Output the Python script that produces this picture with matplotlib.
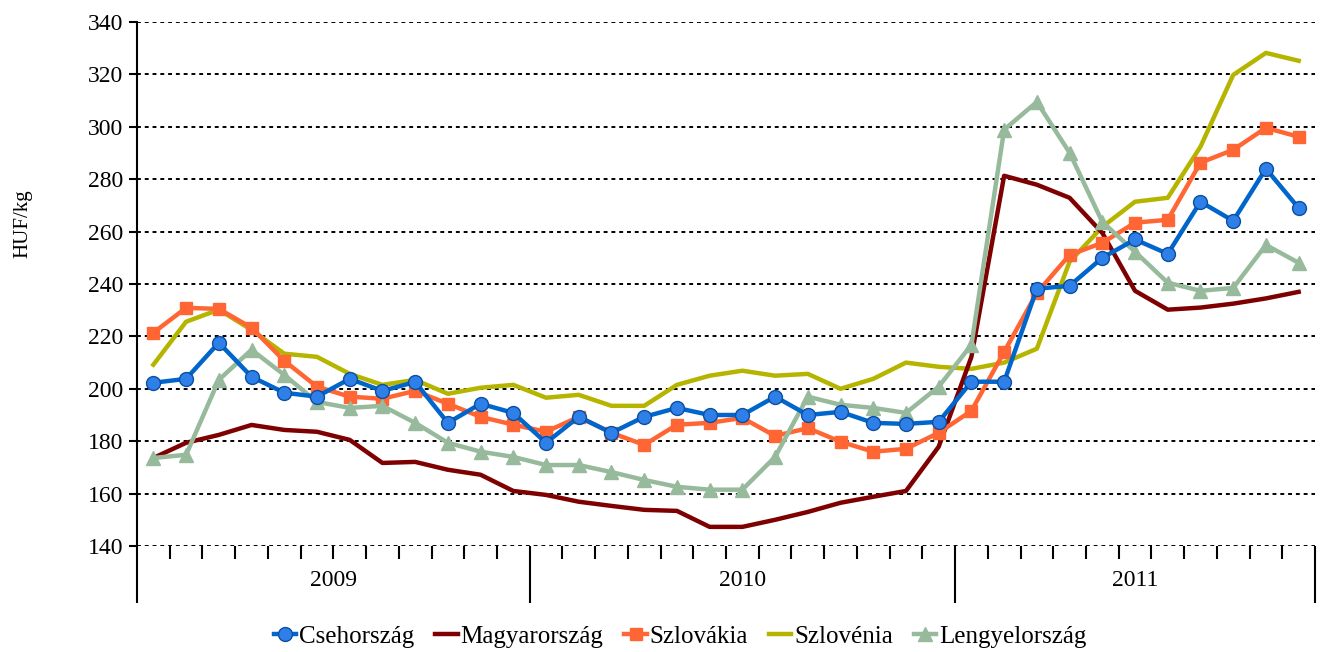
import numpy as np
import matplotlib
matplotlib.use("Agg")
import matplotlib.pyplot as plt
import matplotlib.transforms as mtransforms

plt.rcParams['font.family'] = ['Liberation Serif', 'DejaVu Serif']

# havi adatok, 2009-2011 (HUF/kg)
years = ['2009', '2010', '2011']
year_sizes = [12, 13, 11]

cseh = [202.3, 203.8, 217.6, 204.6, 198.5, 197.0, 203.8, 199.2, 202.6, 187.0, 194.3, 190.8,
        179.4, 189.3, 183.2, 189.3, 192.7, 190.0, 190.0, 197.0, 190.0, 191.2, 187.0, 186.6,
        187.4, 202.7, 202.7, 238.2, 239.3, 250.0, 257.0, 251.5, 271.4, 264.1, 284.0, 269.0]
magyar = [173.6, 179.4, 182.4, 186.2, 184.3, 183.6, 180.5, 171.7, 172.1, 169.1, 167.2, 161.0,
          159.5, 156.9, 155.3, 153.8, 153.4, 147.3, 147.3, 150.0, 153.0, 156.5, 158.8, 161.0,
          177.9, 212.2, 281.3, 277.9, 272.9, 259.5, 237.4, 230.2, 231.0, 232.5, 234.5, 237.0]
szlovakia = [221.4, 230.9, 230.5, 223.3, 210.7, 200.8, 197.0, 196.2, 199.2, 194.3, 189.3, 186.3,
             183.6, 189.3, 183.2, 178.6, 186.3, 187.0, 188.9, 182.0, 185.0, 179.8, 176.0, 177.1,
             183.2, 191.6, 214.1, 236.6, 251.1, 255.7, 263.4, 264.5, 286.3, 291.2, 299.6, 296.2]
szlovenia = [209.2, 225.6, 230.2, 222.5, 213.4, 212.2, 205.7, 201.5, 203.4, 198.1, 200.4, 201.5,
             196.6, 197.7, 193.5, 193.5, 201.5, 205.0, 206.9, 205.0, 205.7, 200.0, 203.8, 210.0,
             208.4, 207.6, 210.0, 215.3, 248.5, 261.8, 271.4, 272.9, 292.4, 319.8, 328.2, 325.2]
lengyel = [173.6, 174.8, 203.4, 214.9, 205.3, 195.0, 192.7, 193.5, 187.0, 179.4, 176.0, 174.0,
           170.9, 170.9, 168.2, 165.2, 162.6, 161.5, 161.5, 174.0, 197.0, 193.9, 192.7, 190.8,
           200.8, 216.8, 298.9, 309.5, 290.1, 263.7, 252.3, 240.5, 237.4, 238.5, 254.9, 248.1]

x = np.arange(len(cseh))

fig = plt.figure(figsize=(13.22, 6.52), dpi=100)
ax = fig.add_axes([137 / 1322, 1 - 546 / 652, (1315 - 137) / 1322, (546 - 22) / 652])

ax.plot(x, cseh, color='#0066CC', lw=3.2, marker='o', ms=10,
        mfc='#2F7FE8', mec='#0A4FA0', mew=1, label='Csehország', zorder=5)
ax.plot(x, magyar, color='#7F0000', lw=3.2, label='Magyarország', zorder=3)
ax.plot(x, szlovakia, color='#FF6633', lw=3.2, marker='s', ms=9,
        mfc='#FF6633', mec='#FF6633', label='Szlovákia', zorder=4)
ax.plot(x, szlovenia, color='#B5B500', lw=3.2, label='Szlovénia', zorder=2)
ax.plot(x, lengyel, color='#96BA9B', lw=3.2, marker='^', ms=10,
        mfc='#96BA9B', mec='#96BA9B', label='Lengyelország', zorder=4)

ax.set_xlim(-0.5, len(x) - 0.5)
ax.set_ylim(140, 340)
ax.set_yticks(np.arange(140, 341, 20))
ax.yaxis.grid(True, color='black', linestyle=(0, (2, 2)), lw=1.4)
ax.set_axisbelow(True)

for s in ['top', 'right', 'bottom']:
    ax.spines[s].set_visible(False)
ax.spines['left'].set_linewidth(1.5)

# kategória-határok (kis tickek) és évhatárok (hosszú tickek)
bounds = np.cumsum([0] + year_sizes) - 0.5
ax.set_xticks(bounds)
ax.set_xticklabels([])
ax.set_xticks(np.arange(len(x) + 1) - 0.5, minor=True)
ax.tick_params(axis='x', which='major', length=41, width=1.5, direction='out')
ax.tick_params(axis='x', which='minor', length=9, width=1.5, direction='out')
ax.tick_params(axis='y', length=6, width=1.5, labelsize=17, pad=4)

trans = mtransforms.blended_transform_factory(ax.transData, ax.transAxes)
for i, yr in enumerate(years):
    mid = (bounds[i] + bounds[i + 1]) / 2
    ax.text(mid, -0.065, yr, transform=trans, ha='center', va='center', fontsize=17)

ax.set_ylabel('HUF/kg', fontsize=15)
ax.yaxis.set_label_coords(-0.089, 0.615)

ax.legend(loc='center', bbox_to_anchor=(0.461, -0.173), ncol=5, frameon=False,
          fontsize=18, handlelength=0.9, handletextpad=0.1, columnspacing=0.85)

fig.savefig('out.png', dpi=100)
